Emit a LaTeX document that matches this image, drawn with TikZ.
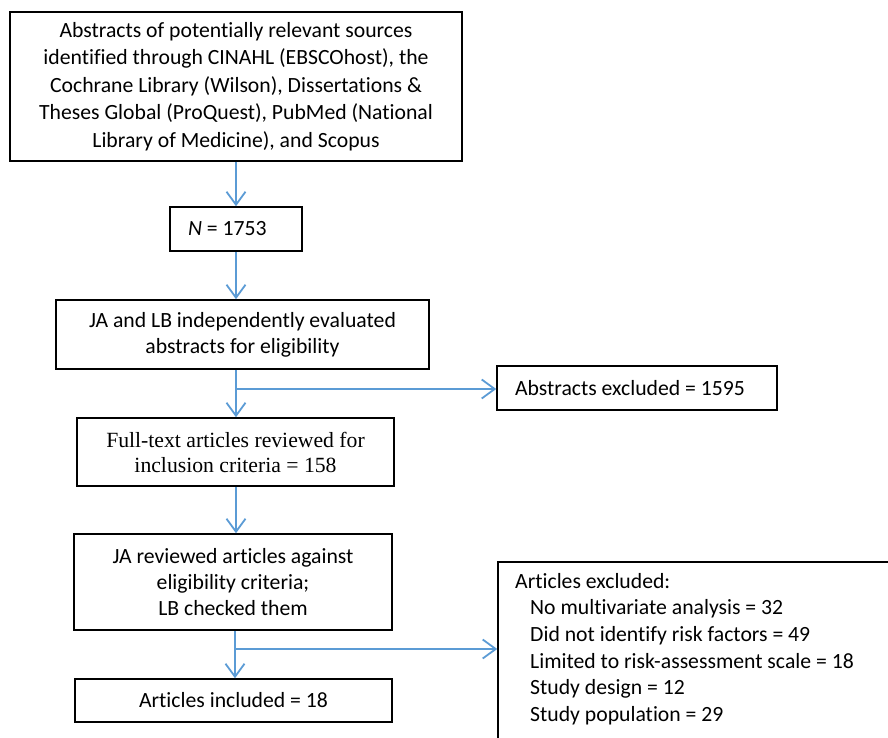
\documentclass[tikz,border=0pt]{standalone}
\usepackage{fontspec}
\setmainfont{Carlito}[RawFeature={-liga}]
\newfontfamily\tnr{Liberation Serif}
\usetikzlibrary{arrows.meta}
\definecolor{arrowblue}{HTML}{5B9BD5}
\tikzset{
  flowbox/.style={draw=black, line width=1.5pt, inner sep=0pt, align=center,
    font=\fontsize{21.7}{26}\selectfont},
  arr/.style={draw=arrowblue, line width=1.8pt,
    -{Straight Barb[length=13pt,width=19pt,line width=1.8pt]}}
}
\begin{document}
\begin{tikzpicture}[x=1pt,y=-1pt]
\useasboundingbox (0,0) rectangle (888,738);
\node[flowbox, minimum width=452pt, minimum height=149pt,
  font=\fontsize{21.7}{27.5}\selectfont] (b1) at (236,86.5)
  {Abstracts of potentially relevant sources\\identified through CINAHL (EBSCOhost), the\\Cochrane Library (Wilson), Dissertations \&\\Theses Global (ProQuest), PubMed (National\\Library of Medicine), and Scopus};
\node[flowbox, minimum width=132pt, minimum height=44pt, text width=96pt,
  align=flush left, inner xsep=18pt] (bN) at (236,229) {\textit{N} = 1753};
\node[flowbox, minimum width=373pt, minimum height=69pt] (b3) at (242.5,334.5)
  {JA and LB independently evaluated\\abstracts for eligibility};
\node[flowbox, minimum width=280pt, minimum height=44pt, text width=244pt,
  align=flush left, inner xsep=18pt] (bAE) at (637,388) {Abstracts excluded = 1595};
\node[flowbox, minimum width=317pt, minimum height=68pt,
  font=\tnr\fontsize{21.7}{25}\selectfont] (b4) at (235.5,452)
  {Full-text articles reviewed for\\inclusion criteria = 158};
\node[flowbox, minimum width=318pt, minimum height=96pt] (b5) at (233,582)
  {JA reviewed articles against\\eligibility criteria;\\LB checked them};
\node[flowbox, minimum width=317pt, minimum height=43pt] (b6) at (233.5,700.5)
  {Articles included = 18};
\node[flowbox, minimum width=397pt, minimum height=183pt] (b7) at (696.5,653.5) {};
\node[anchor=north west, inner sep=0pt, align=flush left,
  font=\fontsize{21.7}{26.6}\selectfont] (b7t) at (515,573)
  {Articles excluded:\\
   \hspace*{15pt}No multivariate analysis = 32\\
   \hspace*{15pt}Did not identify risk factors = 49\\
   \hspace*{15pt}Limited to risk-assessment scale = 18\\
   \hspace*{15pt}Study design = 12\\
   \hspace*{15pt}Study population = 29};
\coordinate (c) at (236,0);
\coordinate (j1) at (236,389);
\coordinate (j2) at (235,649);
\draw[arr] (b1.south -| c) -- (bN.north -| c);
\draw[arr] (bN.south -| c) -- (b3.north -| c);
\draw[arr] (b3.south -| c) -- (b4.north -| c);
\draw[arr] (j1) -- (j1 -| bAE.west);
\draw[arr] (b4.south -| c) -- (b5.north -| c);
\draw[arr] (b5.south -| j2) -- (b6.north -| j2);
\draw[arr] (j2) -- (j2 -| b7.west);
\end{tikzpicture}
\end{document}
